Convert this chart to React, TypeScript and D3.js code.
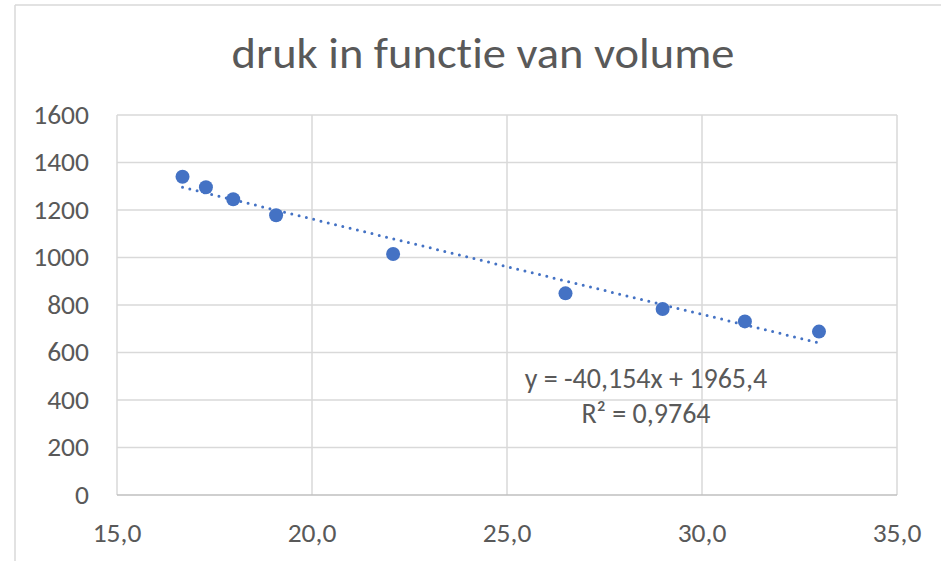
import React from "react";
import * as d3 from "d3";

const volumes = [16.68, 17.28, 17.98, 19.08, 22.08, 26.5, 28.99, 31.1, 33.0];
const pressures = [1340, 1296, 1245, 1178, 1015, 849, 783, 731, 688];
const xTicks = [15, 20, 25, 30, 35];
const yTicks = [0, 200, 400, 600, 800, 1000, 1200, 1400, 1600];
const slope = -40.154;
const intercept = 1965.4;
const title = "druk in functie van volume";
const eqLine1 = "y = -40,154x + 1965,4";
const eqLine2 = "R² = 0,9764";

const W = 941;
const H = 561;
const FONT = "Carlito, 'Open Sans', 'Liberation Sans', sans-serif";

export default function App() {
  const x = d3.scaleLinear().domain([15, 35]).range([117, 897]);
  const y = d3.scaleLinear().domain([0, 1600]).range([495, 115]);
  const fmtX = (v: number) => v.toFixed(1).replace(".", ",");
  const xMin = d3.min(volumes)!;
  const xMax = d3.max(volumes)!;
  const trend = d3
    .line<number>()
    .x((d) => x(d))
    .y((d) => y(slope * d + intercept))([xMin, xMax]);

  return (
    <svg
      width={W}
      height={H}
      style={{ position: "absolute", left: 0, top: 0, background: "#fff", fontVariantLigatures: "none" }}
      fontFamily={FONT}
    >
      <rect x={0} y={0} width={W} height={H} fill="#fff" />
      <line x1={15} y1={5} x2={W} y2={5} stroke="#d9d9d9" strokeWidth={1.5} />
      <line x1={15} y1={5} x2={15} y2={H} stroke="#d9d9d9" strokeWidth={1.5} />
      <text x={483} y={68} textAnchor="middle" fontSize={44} fill="#595959" textLength={503} lengthAdjust="spacingAndGlyphs">
        {title}
      </text>
      {yTicks.map((t) => (
        <g key={"y" + t}>
          {t > 0 && (
            <line x1={x(15)} x2={x(35)} y1={y(t)} y2={y(t)} stroke="#d9d9d9" strokeWidth={1.5} />
          )}
          <text x={89} y={y(t) + 8.5} textAnchor="end" fontSize={27.5} fill="#595959">
            {t}
          </text>
        </g>
      ))}
      {xTicks.map((t) => (
        <g key={"x" + t}>
          <line x1={x(t)} x2={x(t)} y1={y(1600)} y2={y(0)} stroke="#d9d9d9" strokeWidth={1.5} />
          <text x={x(t)} y={542} textAnchor="middle" fontSize={27.5} fill="#595959">
            {fmtX(t)}
          </text>
        </g>
      ))}
      <line x1={x(15)} x2={x(35)} y1={y(0)} y2={y(0)} stroke="#bfbfbf" strokeWidth={1.5} />
      <path
        d={trend || ""}
        fill="none"
        stroke="#4472C4"
        strokeWidth={3}
        strokeDasharray="0 7.5"
        strokeLinecap="round"
      />
      {volumes.map((v, i) => (
        <circle key={i} cx={x(v)} cy={y(pressures[i])} r={7} fill="#4472C4" />
      ))}
      <text x={646} y={388} textAnchor="middle" fontSize={28} fill="#595959">
        {eqLine1}
      </text>
      <text x={646} y={423} textAnchor="middle" fontSize={28} fill="#595959">
        {eqLine2}
      </text>
    </svg>
  );
}
